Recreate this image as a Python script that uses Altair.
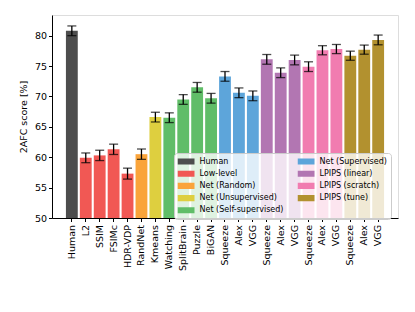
import altair as alt
import pandas as pd

labels = ["Human", "L2", "SSIM", "FSIMc", "HDR-VDP", "RandNet", "Kmeans", "Watching",
          "SplitBrain", "Puzzle", "BiGAN", "Squeeze", "Alex", "VGG", "Squeeze", "Alex", "VGG",
          "Squeeze", "Alex", "VGG", "Squeeze", "Alex", "VGG"]
groups = ["Human", "Low-level", "Low-level", "Low-level", "Low-level", "Net (Random)",
          "Net (Unsupervised)", "Net (Self-supervised)", "Net (Self-supervised)",
          "Net (Self-supervised)", "Net (Self-supervised)", "Net (Supervised)",
          "Net (Supervised)", "Net (Supervised)", "LPIPS (linear)", "LPIPS (linear)",
          "LPIPS (linear)", "LPIPS (scratch)", "LPIPS (scratch)", "LPIPS (scratch)",
          "LPIPS (tune)", "LPIPS (tune)", "LPIPS (tune)"]
scores = [80.8, 59.9, 60.3, 61.3, 57.3, 60.5, 66.6, 66.5, 69.5, 71.5, 69.7, 73.3, 70.6,
          70.1, 76.1, 73.9, 76.0, 74.9, 77.6, 77.8, 76.7, 77.7, 79.3]
errors = [0.8, 0.8, 0.85, 0.85, 0.9, 0.85, 0.8, 0.8, 0.8, 0.8, 0.8, 0.8, 0.8,
          0.8, 0.8, 0.8, 0.8, 0.8, 0.75, 0.75, 0.75, 0.75, 0.8]

legend_domain = ["Human", "Low-level", "Net (Random)", "Net (Unsupervised)",
                 "Net (Self-supervised)", "Net (Supervised)", "LPIPS (linear)",
                 "LPIPS (scratch)", "LPIPS (tune)"]
legend_colors = ["#4D4D4D", "#F15854", "#FAA43A", "#DECF3F", "#60BD68",
                 "#5DA5DA", "#B276B2", "#F17CB0", "#B2912F"]
y_ticks = [50, 55, 60, 65, 70, 75, 80]

df = pd.DataFrame({
    "id": list(range(len(labels))),
    "label": labels,
    "group": groups,
    "score": scores,
    "err": errors,
})

label_expr = "[" + ",".join("'" + l + "'" for l in labels) + "][datum.value]"
FONT = "DejaVu Sans"

x_scale = alt.Scale(paddingInner=0.15, paddingOuter=1)
x_axis = alt.Axis(title=None, labelExpr=label_expr, labelAngle=270,
                  labelFontSize=9.5, labelFont=FONT, labelColor="#000",
                  tickColor="#000", tickSize=3.5, domainColor="#000",
                  labelPadding=3, labelOverlap=False)
y_scale = alt.Scale(domain=[50, 83.4], nice=False, zero=False)
y_axis = alt.Axis(title="2AFC score [%]", values=y_ticks, labelOverlap=False,
                  grid=False, labelFontSize=9.5, labelFont=FONT, labelColor="#000",
                  titleFontSize=9.5, titleFont=FONT, titleFontWeight="normal",
                  titleColor="#000", tickColor="#000", tickSize=3.5,
                  domainColor="#000", titlePadding=6)

ex = alt.X("id:O", sort=None, scale=x_scale, axis=x_axis)

base = alt.Chart(df)

bars = base.mark_bar().encode(
    x=ex,
    y=alt.Y("score:Q", scale=y_scale, axis=y_axis),
    y2=alt.datum(50),
    color=alt.Color("group:N",
                    scale=alt.Scale(domain=legend_domain, range=legend_colors),
                    legend=alt.Legend(title=None, orient="none", legendX=122, legendY=138,
                                      columns=2, columnPadding=14, rowPadding=2.2,
                                      labelFontSize=8, labelFont=FONT, labelColor="#000",
                                      symbolType="M-1,-0.36L1,-0.36L1,0.36L-1,0.36Z",
                                      symbolSize=289, symbolStrokeWidth=0,
                                      symbolOpacity=1, clipHeight=10, labelOffset=5,
                                      fillColor="rgba(255,255,255,0.8)",
                                      strokeColor="#cccccc", cornerRadius=3, padding=3.5)),
)

err = base.transform_calculate(
    lo="datum.score - datum.err", hi="datum.score + datum.err"
)
rules = err.mark_rule(color="#000", strokeWidth=1.3).encode(
    x=ex, y=alt.Y("lo:Q", scale=y_scale, axis=y_axis), y2="hi:Q")
caps_lo = err.mark_tick(color="#000", size=9, thickness=1.3).encode(
    x=ex, y=alt.Y("lo:Q", scale=y_scale, axis=y_axis))
caps_hi = err.mark_tick(color="#000", size=9, thickness=1.3).encode(
    x=ex, y=alt.Y("hi:Q", scale=y_scale, axis=y_axis))

chart = alt.layer(bars, rules, caps_lo, caps_hi).properties(
    width=346, height=203,
    autosize=alt.AutoSizeParams(type="none"),
    padding={"left": 44, "top": 7, "right": 9, "bottom": 78},
).configure_view(stroke="#000", strokeWidth=1).configure(background="white")

chart.save("out.html", embed_options={"renderer": "svg", "actions": False})
